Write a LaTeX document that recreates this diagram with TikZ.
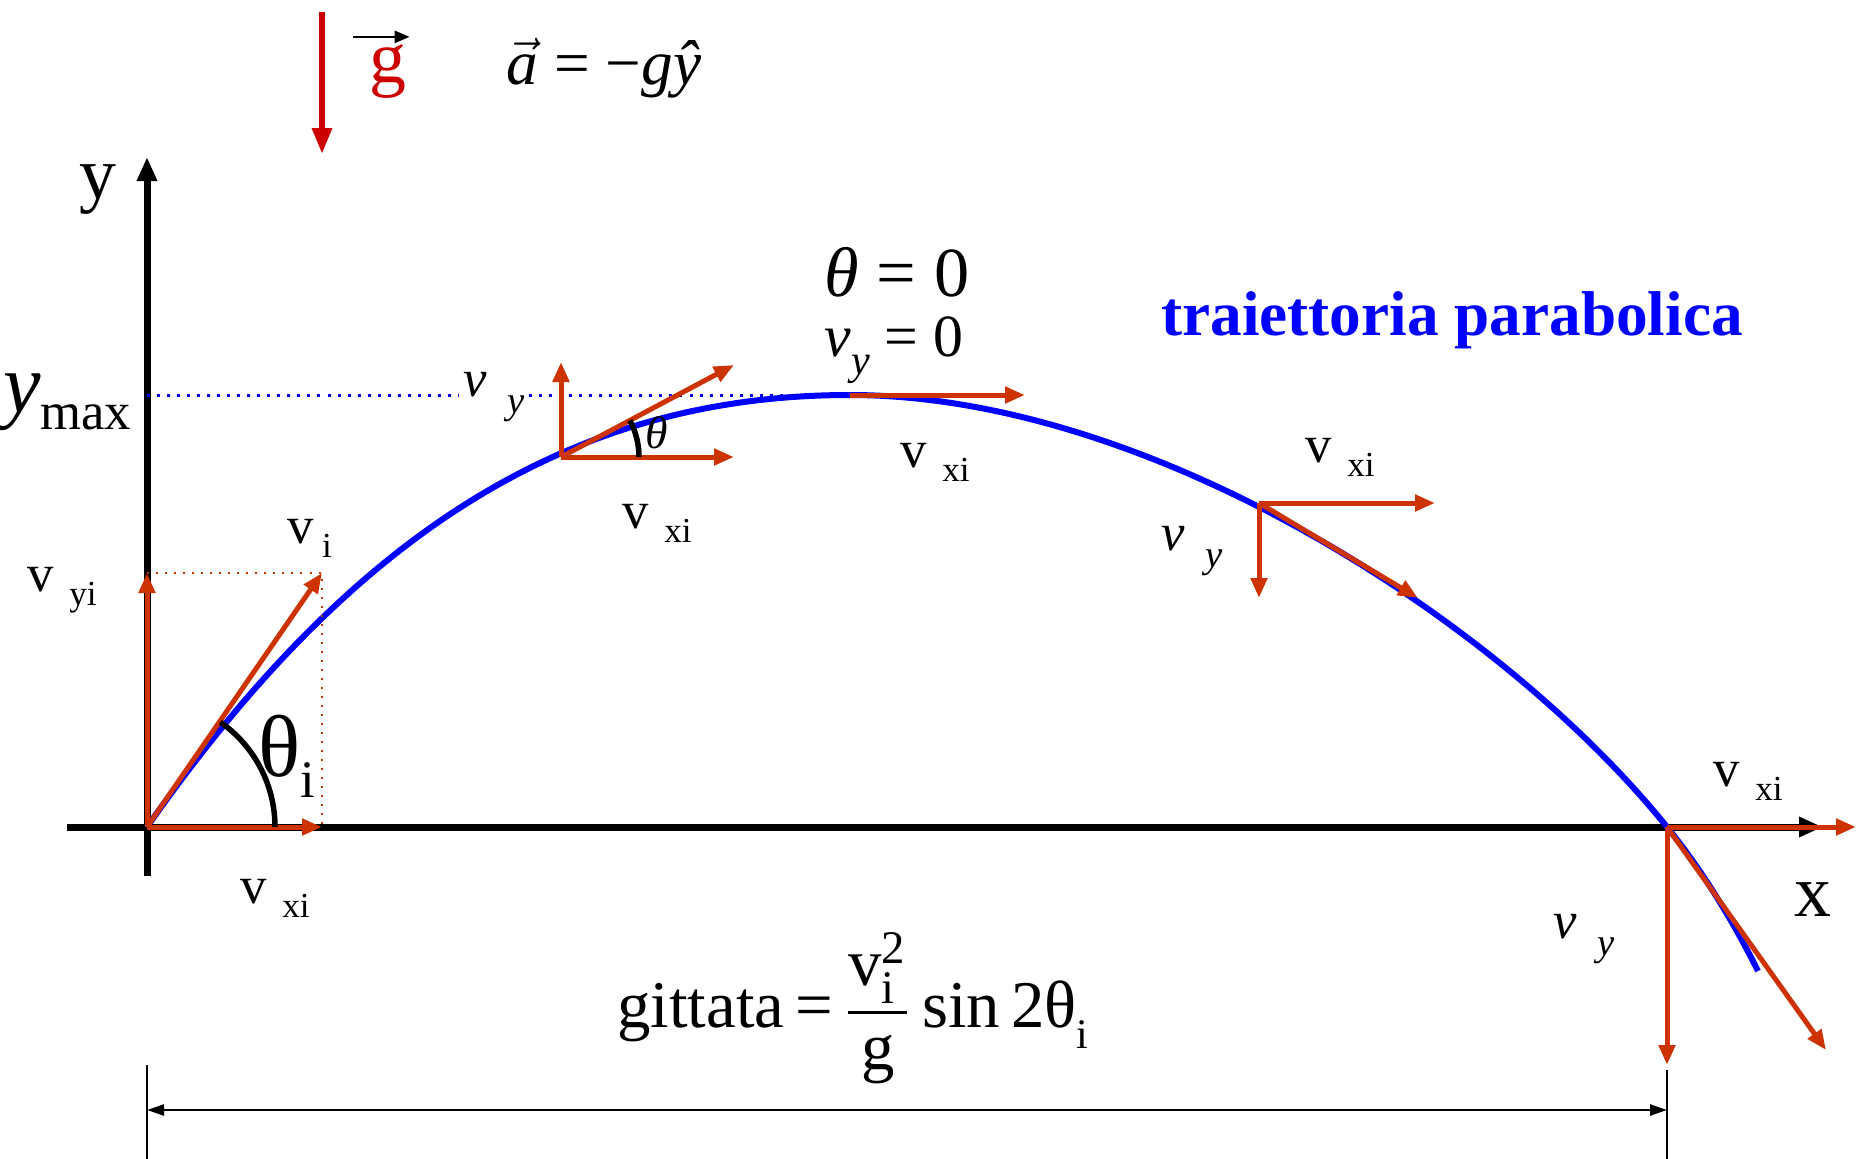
\documentclass[tikz,border=0pt]{standalone}
\usepackage{amsmath}
\usepackage{fontspec}
\setmainfont{Liberation Serif}
\usetikzlibrary{arrows.meta}

\definecolor{vecred}{RGB}{204,51,0}
\definecolor{gred}{RGB}{204,0,0}
\newcommand{\fsz}[1]{\fontsize{#1}{#1}\selectfont}
\newcommand{\vup}[1]{v\hspace{0.3em}\raisebox{-4pt}{\fsz{10}#1}}
\newcommand{\vit}{\textit{v}\hspace{0.4em}\raisebox{-5pt}{\fsz{11}\textit{y}}}

\begin{document}
\begin{tikzpicture}[
  x=0.1mm, y=-0.1mm,
  axis/.style={line width=0.7mm, -{Triangle[length=2.4mm, width=1.9mm]}},
  vec/.style={draw=vecred, line width=0.5mm, -{Triangle[length=2mm, width=1.6mm]}},
  comp/.style={draw=vecred, dotted, line width=0.2mm},
  traj/.style={draw=blue, line width=0.6mm},
  lab/.style={inner sep=1pt, font=\fsz{15}},
  ang/.style={line width=0.55mm},
]
\useasboundingbox (0,0) rectangle (1856,1159);

% axes
\coordinate (O) at (147,827);
\coordinate (xl) at (67,827);
\coordinate (xr) at (1823,827);
\coordinate (yb) at (147,876);
\coordinate (yt) at (147,157);
\draw[axis] (xl) -- (xr);
\draw[axis] (yb) -- (yt);
\node[font=\fsz{21}] (ylab) at (98,190) {y};
\node[font=\fsz{21}] (xlab) at (1813,900) {x};

% gravity
\coordinate (gtop) at (322,12);
\coordinate (gbot) at (322,154);
\draw[draw=gred, line width=0.6mm, -{Triangle[length=2.6mm, width=1.9mm]}] (gtop) -- (gbot);
\node[text=gred, font=\fsz{21}, inner sep=1pt] (glab) at (388,72) {g};
\draw[line width=0.25mm, -{Triangle[length=1.5mm, width=1.2mm]}]
  ([xshift=-1.2mm, yshift=0.4mm]glab.north west) -- ([xshift=-0.1mm, yshift=0.4mm]glab.north east);
\node[font=\fsz{18}] (acc) at (604,68) {$\vec{\mbox{\itshape a}}$ = −\textit{gŷ}};

% trajectory
\coordinate (apex) at (850,395);
\coordinate (L) at (1667,827);
\coordinate (tend) at (1758,971);
\draw[traj] (O) .. controls (360,523) and (580,395) .. (apex)
  .. controls (1150,395) and (1500,620) .. (L)
  .. controls (1705,874) and (1735,925) .. (tend);
\node[font=\fsz{18}\bfseries, text=blue] (trajlab) at (1452,320) {traiettoria parabolica};

% y max
\node[anchor=east, inner sep=0pt] (ymaxlab) at (132,402)
  {\fsz{24}\textit{y}\raisebox{-5pt}{\fsz{15}max}};
\node[lab] (vy1) at (494,397) {\vit};
\draw[blue, dotted, line width=0.3mm] (O |- apex) -- (vy1.west |- apex);
\draw[blue, dotted, line width=0.3mm] (vy1.east |- apex) -- (apex);

% launch
\coordinate (Oy) at (147,573);
\coordinate (Ov) at (322,573);
\coordinate (Ox) at (322,827);
\draw[comp] (Oy) -- (Ov) -- (Ox);
\draw[vec] (O) -- (Oy);
\draw[vec] (O) -- (Ox);
\draw[vec] (O) -- (Ov);
\draw[ang] (O) ++(128,0) arc[start angle=0, end angle=-55, radius=128];
\node[lab] (vyilab) at (62,590) {\vup{yi}};
\node[lab] (vilab) at (310,538) {v\hspace{0.15em}\raisebox{-4pt}{\fsz{10}i}};
\node[lab] (vxilab0) at (275,898) {\vup{xi}};
\node (thilab) at (287,756) {\fsz{25}θ\raisebox{-6pt}{\fsz{15}i}};

% rising point
\coordinate (P1) at (561,457);
\coordinate (P1y) at (561,362);
\coordinate (P1x) at (734,457);
\coordinate (P1v) at (734,365);
\draw[vec] (P1) -- (P1y);
\draw[vec] (P1) -- (P1x);
\draw[vec] (P1) -- (P1v);
\draw[ang] (P1) ++(78,0) arc[start angle=0, end angle=-28, radius=78];
\node[font=\fsz{13}\itshape, inner sep=1pt] (thlab) at (657,433) {θ};
\node[lab] (vxilab1) at (657,523) {\vup{xi}};

% top
\coordinate (apexx) at (1025,395);
\draw[vec] (apex) -- (apexx);
\node[font=\fsz{20}] (th0) at (897,272) {\textit{θ} = 0};
\node[font=\fsz{17}] (vy0) at (894,350) {\textit{v}\raisebox{-5pt}{\fsz{12}\textit{y}} = 0};
\node[lab] (vxilab2) at (935,462) {\vup{xi}};

% falling point
\coordinate (P3) at (1259,503);
\coordinate (P3x) at (1435,503);
\coordinate (P3y) at (1259,598);
\coordinate (P3v) at (1418,598);
\draw[vec] (P3) -- (P3x);
\draw[vec] (P3) -- (P3y);
\draw[vec] (P3) -- (P3v);
\node[lab] (vxilab3) at (1340,457) {\vup{xi}};
\node[lab] (vy3) at (1192,551) {\vit};

% landing
\coordinate (Lx) at (1856,827);
\coordinate (Ly) at (1667,1065);
\coordinate (Lv) at (1826,1050);
\draw[vec] (L) -- (Lx);
\draw[vec] (L) -- (Ly);
\draw[vec] (L) -- (Lv);
\node[lab] (vxilab4) at (1748,781) {\vup{xi}};
\node[lab] (vy4) at (1584,939) {\vit};

% range
\coordinate (dl) at (147,1065);
\coordinate (dr) at (1667,1070);
\coordinate (dlb) at (147,1159);
\coordinate (drb) at (1667,1159);
\draw[line width=0.2mm] (dl) -- (dlb);
\draw[line width=0.2mm] (dr) -- (drb);
\draw[line width=0.25mm, {Triangle[length=1.7mm, width=1.1mm]}-{Triangle[length=1.7mm, width=1.1mm]}]
  (dl |- 0,1110) -- (dr |- 0,1110);
\node[font=\fsz{19}] (range) at (853,1008)
  {gittata\,=\,$\dfrac{\text{v}_{\text{i}}^{\text{2}}\rule[-5pt]{0pt}{5pt}}{\text{g}}$\,sin\,2θ\raisebox{-6pt}{\fsz{12}i}};
\end{tikzpicture}
\end{document}
